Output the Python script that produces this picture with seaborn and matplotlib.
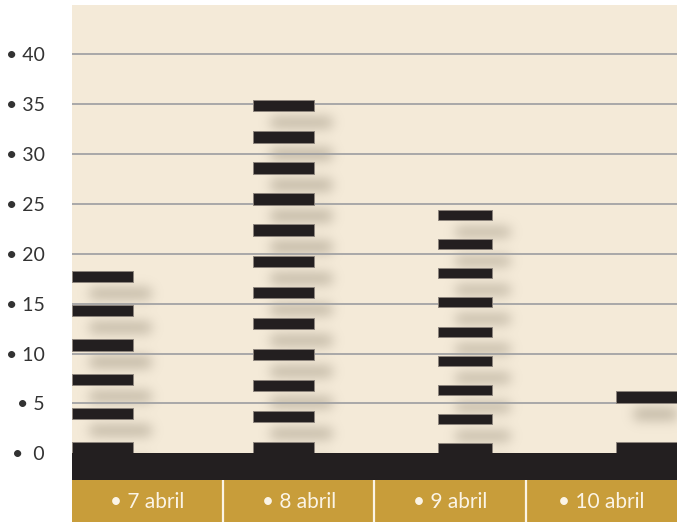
import numpy as np
import pandas as pd
import matplotlib
matplotlib.use("Agg")
import matplotlib.pyplot as plt
import seaborn as sns

# ---- data ----
categories = ["7 abril", "8 abril", "9 abril", "10 abril"]
values = [18.3, 35.4, 24.4, 6.2]
stripe_counts = [6, 12, 9, 2]
y_ticks = [0, 5, 10, 15, 20, 25, 30, 35, 40]
y_tick_labels = ["•  0", "• 5", "• 10", "• 15", "• 20", "• 25", "• 30", "• 35", "• 40"]

# ---- layout / style ----
bar_pos = [-0.3, 0.9, 2.1, 3.3]
bar_w = [0.40, 0.40, 0.357, 0.40]
stripe_h = [1.13, 1.13, 1.0, 1.16]
CREAM = "#f4ead8"
INK = "#231f20"
GOLD = "#c89d3a"
GRID = "#9c9da0"

sns.set_theme(style="white")
plt.rcParams["font.family"] = ["Lato", "DejaVu Sans"]

W_PX, H_PX = 680, 522
fig = plt.figure(figsize=(W_PX / 100, H_PX / 100), dpi=100)
fig.patch.set_facecolor("white")

left, right = 72, 677
top, band_bottom = 5, 480
y0_px = 453.3
ppu = 9.975  # pixels per unit
ylo = -(band_bottom - y0_px) / ppu
yhi = (y0_px - top) / ppu
xlo, xhi = -0.5, 3.5

ax = fig.add_axes([left / W_PX, (H_PX - band_bottom) / H_PX,
                   (right - left) / W_PX, (band_bottom - top) / H_PX])
ax.set_facecolor(CREAM)

# ---- shadows (blurred image computed from stripes) ----
Wp, Hp = right - left, band_bottom - top
xs = xlo + (np.arange(Wp) + 0.5) * (xhi - xlo) / Wp
ys = ylo + (np.arange(Hp) + 0.5) * (yhi - ylo) / Hp
mask = np.zeros((Hp, Wp))
dx_sh = 18 / ((right - left) / 4.0)
dy_sh = -17 / ppu
stripes = []
for c, v, n, p, w, h in zip(categories, values, stripe_counts, bar_pos, bar_w, stripe_h):
    pitch = (v - h) / (n - 1)
    for k in range(n):
        b = k * pitch
        stripes.append((c, p, w, b, h))
        mx = ((xs >= p - w / 2 + dx_sh) & (xs < p + w / 2 + dx_sh)).astype(float)
        my = ((ys >= b + dy_sh) & (ys < b + h + dy_sh)).astype(float)
        mask = np.maximum(mask, np.outer(my, mx))
sig = 6.0
kk = np.arange(-20, 21)
kern = np.exp(-kk ** 2 / (2 * sig ** 2))
kern /= kern.sum()
mask = np.array([np.convolve(r, kern, mode="same") for r in mask])
mask = np.array([np.convolve(col, kern, mode="same") for col in mask.T]).T
rgba = np.zeros((Hp, Wp, 4))
rgba[..., 0] = 0.47
rgba[..., 1] = 0.43
rgba[..., 2] = 0.35
rgba[..., 3] = np.clip(mask * 0.42, 0, 1)
ax.imshow(rgba, extent=(xlo, xhi, ylo, yhi), origin="lower", aspect="auto",
          interpolation="bilinear", zorder=1)

# gridlines
for t in y_ticks[1:]:
    ax.axhline(t, color=GRID, lw=1.2, zorder=2)

# stripes
sdf = pd.DataFrame(stripes, columns=["cat", "pos", "w", "bottom", "h"])
ax.bar(sdf["pos"], sdf["h"], width=sdf["w"], bottom=sdf["bottom"],
       color=INK, edgecolor="#8d857d", linewidth=0.7, zorder=3)

# base band
ax.axhspan(ylo, 0, color=INK, zorder=4, lw=0)

ax.set_xlim(xlo, xhi)
ax.set_ylim(ylo, yhi)
ax.set_xticks([])
ax.set_yticks(y_ticks)
ax.set_yticklabels(y_tick_labels, fontsize=14, color="#333333")
ax.tick_params(axis="y", length=0, pad=19.5)
for s in ax.spines.values():
    s.set_visible(False)

# ---- gold category row (seaborn barplot) ----
axl = fig.add_axes([left / W_PX, 0, (right - left) / W_PX, (H_PX - band_bottom) / H_PX])
lab_df = pd.DataFrame({"cat": categories, "one": [1] * len(categories)})
sns.barplot(data=lab_df, x="cat", y="one", width=1.0, color=GOLD, saturation=1,
            edgecolor="none", linewidth=0, ax=axl)
for i in range(1, len(categories)):
    axl.axvline(i - 0.5, color="#fbf4e6", lw=1.6)
for i, c in enumerate(categories):
    axl.text(i, 0.48, "• " + c, ha="center", va="center", fontsize=15,
             color="#fbf4e6")
axl.set_xlim(xlo, xhi)
axl.set_ylim(0, 1)
axl.set_axis_off()

fig.savefig("out.png", dpi=100)
